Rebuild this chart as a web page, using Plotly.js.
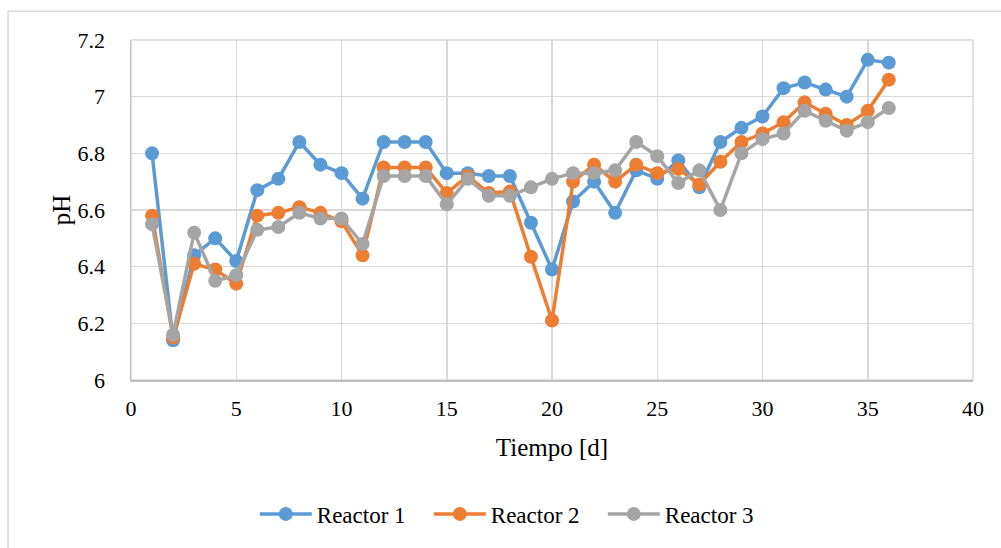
<!DOCTYPE html>
<html>
<head>
<meta charset="utf-8">
<script src="https://cdn.plot.ly/plotly-3.0.1.min.js"></script>
<style>
  html, body { margin: 0; padding: 0; background: #ffffff; }
  #chart { width: 1001px; height: 548px; }
</style>
</head>
<body>
<div id="chart"></div>
<script>
// pH over time in three reactors
const dias = [1,2,3,4,5,6,7,8,9,10,11,12,13,14,15,16,17,18,19,20,21,22,23,24,25,26,27,28,29,30,31,32,33,34,35,36];

const reactor1 = [6.80,6.14,6.44,6.50,6.42,6.67,6.71,6.84,6.76,6.73,6.64,6.84,6.84,6.84,6.73,6.73,6.72,6.72,6.555,6.39,
                  6.63,6.70,6.59,6.74,6.71,6.775,6.68,6.84,6.89,6.93,7.03,7.05,7.025,7.00,7.13,7.12];
const reactor2 = [6.58,6.15,6.41,6.39,6.34,6.58,6.59,6.61,6.59,6.56,6.44,6.75,6.75,6.75,6.66,6.72,6.66,6.665,6.435,6.21,
                  6.70,6.76,6.70,6.76,6.73,6.745,6.69,6.77,6.84,6.87,6.91,6.98,6.94,6.90,6.95,7.06];
const reactor3 = [6.55,6.16,6.52,6.35,6.37,6.53,6.54,6.59,6.57,6.57,6.48,6.72,6.72,6.72,6.62,6.71,6.65,6.65,6.68,6.71,
                  6.73,6.73,6.74,6.84,6.79,6.695,6.74,6.60,6.80,6.85,6.87,6.95,6.915,6.88,6.91,6.96];

const seriesNames = ['Reactor 1', 'Reactor 2', 'Reactor 3'];
const xTickVals = [0,5,10,15,20,25,30,35,40];
const xTickText = ['0','5','10','15','20','25','30','35','40'];
const yTickVals = [6,6.2,6.4,6.6,6.8,7,7.2];
const yTickText = ['6','6.2','6.4','6.6','6.8','7','7.2'];

const colores = ['#5B9BD5', '#ED7D31', '#A5A5A5'];
const serif = 'Liberation Serif';

const traces = [reactor1, reactor2, reactor3].map((ys, i) => ({
  x: dias,
  y: ys,
  name: seriesNames[i],
  type: 'scatter',
  mode: 'lines+markers',
  line: { color: colores[i], width: 3.5 },
  marker: { color: colores[i], size: 14 },
  cliponaxis: false
}));

const layout = {
  width: 1001,
  height: 548,
  margin: { l: 131, r: 28, t: 40, b: 165 },
  paper_bgcolor: '#ffffff',
  plot_bgcolor: '#ffffff',
  font: { family: serif, color: '#000000', size: 22 },
  showlegend: true,
  legend: {
    orientation: 'h',
    x: 0.457, xanchor: 'center',
    y: -0.394, yanchor: 'middle',
    font: { family: serif, size: 23, color: '#000000' },
    itemwidth: 52,
    entrywidth: 107,
    entrywidthmode: 'pixels',
    traceorder: 'normal'
  },
  xaxis: {
    range: [0, 40],
    tickvals: xTickVals,
    ticktext: xTickText,
    showgrid: true,
    gridcolor: '#D9D9D9',
    gridwidth: 1.5,
    zeroline: false,
    showline: true,
    linecolor: '#BFBFBF',
    linewidth: 1.5,
    ticks: '',
    ticklabelstandoff: 8,
    tickfont: { family: serif, size: 22, color: '#000000' },
    title: { text: 'Tiempo [d]', font: { family: serif, size: 25, color: '#000000' }, standoff: 18 }
  },
  yaxis: {
    range: [6, 7.2],
    tickvals: yTickVals,
    ticktext: yTickText,
    showgrid: true,
    gridcolor: '#D9D9D9',
    gridwidth: 1.5,
    zeroline: false,
    showline: true,
    linecolor: '#BFBFBF',
    linewidth: 1.5,
    ticks: '',
    ticklabelstandoff: 20,
    tickfont: { family: serif, size: 22, color: '#000000' },
    title: { text: 'pH', font: { family: serif, size: 25, color: '#000000' }, standoff: 0 }
  },
  shapes: [
    // outer chart frame
    { type: 'rect', xref: 'paper', yref: 'paper', x0: -0.146, x1: 1.2, y0: -0.6, y1: 1.0845,
      line: { color: '#D9D9D9', width: 1.5 }, fillcolor: 'rgba(0,0,0,0)', layer: 'below' },
    // plot area border
    { type: 'rect', xref: 'paper', yref: 'paper', x0: 0, x1: 1, y0: 0, y1: 1,
      line: { color: '#D9D9D9', width: 1.5 }, fillcolor: 'rgba(0,0,0,0)', layer: 'below' }
  ]
};

Plotly.newPlot('chart', traces, layout, { displayModeBar: false, staticPlot: true });
</script>
</body>
</html>
